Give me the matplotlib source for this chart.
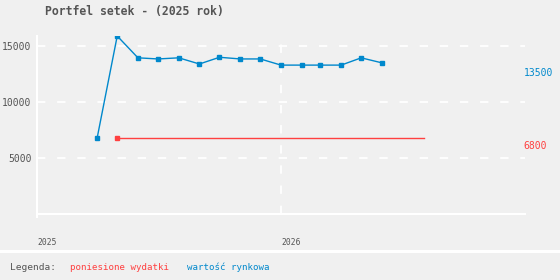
import datetime as dt
import matplotlib
matplotlib.use('Agg')
import matplotlib.pyplot as plt
import matplotlib.dates as mdates
from matplotlib.patches import Rectangle

# monthly market value of the portfolio
value_dates = [dt.date(2025, m, 1) for m in range(4, 13)] + [dt.date(2026, m, 1) for m in range(1, 7)]
market_value = [6800, 15900, 13950, 13850, 13950, 13400, 14000, 13850, 13850,
                13300, 13300, 13300, 13300, 13950, 13500]

# costs incurred
cost_dates = [dt.date(2025, 5, 1), dt.date(2026, 8, 3)]
costs = [6800, 6800]

y_ticks = [5000, 10000, 15000]
x_ticks = [dt.date(2025, 1, 1), dt.date(2026, 1, 1)]
x_tick_labels = ['2025', '2026']

BG = '#f0f0f0'
BLUE = '#0088cc'
RED = '#ff4040'
GREY = '#555555'

plt.rcParams['font.family'] = 'DejaVu Sans Mono'
plt.rcParams['lines.scale_dashes'] = False

fig = plt.figure(figsize=(5.6, 2.8), dpi=100, facecolor=BG)
ax = fig.add_axes([37 / 560, 1 - 214 / 280, (525 - 37) / 560, (214 - 36) / 280])
ax.set_facecolor(BG)

ax.plot(cost_dates, costs, color=RED, linewidth=1.0, marker='s', markersize=2.5,
        markevery=[0], zorder=3)
ax.plot(value_dates, market_value, color=BLUE, linewidth=1.0, marker='s', markersize=2.5,
        zorder=4)

ax.set_xlim(dt.date(2025, 1, 1), dt.date(2027, 1, 1))
ax.set_ylim(0, 15900)

ax.set_yticks(y_ticks)
ax.set_yticklabels([str(v) for v in y_ticks])
ax.set_xticks([mdates.date2num(d) for d in x_ticks])
ax.set_xticklabels(x_tick_labels, ha='left', fontsize=5.8, color=GREY)
ax.tick_params(axis='x', length=0, pad=17)
ax.tick_params(axis='y', length=0, pad=4, labelsize=7, labelcolor=GREY)

for side in ['top', 'right']:
    ax.spines[side].set_visible(False)
ax.spines['left'].set_color('white')
ax.spines['bottom'].set_color('white')
ax.spines['left'].set_linewidth(1.5)
ax.spines['bottom'].set_linewidth(1.5)
ax.spines['left'].set_bounds(-300, 15900)

ax.grid(True, color='white', linestyle=(0, (6, 8.5)), linewidth=1.3, zorder=1)
ax.set_axisbelow(True)

# last values on the right
ax.annotate(str(market_value[-1]), xy=(1.0, market_value[-1]),
            xycoords=('axes fraction', 'data'), xytext=(-1, -7), textcoords='offset points',
            ha='left', va='center', fontsize=7, color=BLUE)
ax.annotate(str(costs[-1]), xy=(1.0, costs[-1]),
            xycoords=('axes fraction', 'data'), xytext=(-1, -5.5), textcoords='offset points',
            ha='left', va='center', fontsize=7, color=RED)

fig.text(45 / 560, 1 - 12 / 280, 'Portfel setek - (2025 rok)', fontsize=8.3,
         fontweight='bold', color=GREY, ha='left', va='center')

# separator and legend
fig.patches.append(Rectangle((0, 1 - 253 / 280), 1, 3.5 / 280, transform=fig.transFigure,
                             facecolor='white', edgecolor='none'))
fig.text(10 / 560, 1 - 267 / 280, 'Legenda:', fontsize=6.8, color=GREY, ha='left', va='center')
fig.text(70 / 560, 1 - 267 / 280, 'poniesione wydatki', fontsize=6.6, color=RED,
         ha='left', va='center')
fig.text(187 / 560, 1 - 267 / 280, 'wartość rynkowa', fontsize=6.6, color=BLUE,
         ha='left', va='center')

fig.savefig('out.png', dpi=100, facecolor=BG)
